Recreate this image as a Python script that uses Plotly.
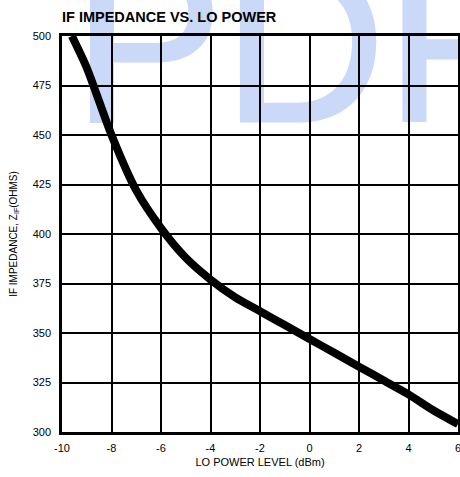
import plotly.graph_objects as go
import base64

lo_power_dbm = [-9.6, -9, -8, -7, -6, -5, -4, -3, -2, -1, 0, 1, 2, 3, 4, 5, 6]
if_impedance_ohms = [500, 484, 450, 422, 403, 388, 377, 368, 361, 354, 347, 340, 333, 326, 319, 311, 304]

x_ticks = [-10, -8, -6, -4, -2, 0, 2, 4, 6]
y_ticks = [300, 325, 350, 375, 400, 425, 450, 475, 500]

W, H = 460, 477
ml, mr, mt, mb = 62, 2, 36, 45
pw, ph = W - ml - mr, H - mt - mb

svg = f'''<svg xmlns="http://www.w3.org/2000/svg" width="{W}" height="{H}" viewBox="0 0 {W} {H}">
<text x="73" y="121" font-family="Liberation Sans, Arial, sans-serif" font-size="225" fill="#c9d9f7" stroke="#c9d9f7" stroke-width="3">PDF</text>
</svg>'''
svg_uri = "data:image/svg+xml;base64," + base64.b64encode(svg.encode()).decode()

fig = go.Figure()
fig.add_trace(go.Scatter(
    x=lo_power_dbm, y=if_impedance_ohms, mode="lines",
    line=dict(color="black", width=8, shape="spline", smoothing=0.7),
    hoverinfo="skip", showlegend=False,
))

fig.update_layout(
    width=W, height=H,
    margin=dict(l=ml, r=mr, t=mt, b=mb, autoexpand=False),
    paper_bgcolor="white",
    plot_bgcolor="rgba(0,0,0,0)",
    font=dict(family="Liberation Sans, Arial, sans-serif", color="black", size=11),
    title=dict(text="<b>IF IMPEDANCE VS. LO POWER</b>", x=ml / W, xanchor="left",
               y=1 - 17 / H, yanchor="middle", font=dict(size=14.5)),
    images=[dict(source=svg_uri, xref="paper", yref="paper",
                 x=-ml / pw, y=1 + mt / ph, sizex=W / pw, sizey=H / ph,
                 xanchor="left", yanchor="top", sizing="stretch", layer="below")],
    xaxis=dict(range=[-10, 6], tickvals=x_ticks, ticktext=[str(v) for v in x_ticks],
               showgrid=True, gridcolor="black", gridwidth=1.5,
               showline=True, linecolor="black", linewidth=2.5, mirror=True,
               zeroline=False, ticks="", ticklabelstandoff=4, automargin=False,
               ticklabeloverflow="allow",
               title=dict(text="LO POWER LEVEL (dBm)", standoff=6, font=dict(size=11))),
    yaxis=dict(range=[300, 500], tickvals=y_ticks, ticktext=[str(v) for v in y_ticks],
               showgrid=True, gridcolor="black", gridwidth=1.5,
               showline=True, linecolor="black", linewidth=2.5, mirror=True,
               zeroline=False, ticks="", ticklabelstandoff=6, automargin=False,
               ticklabeloverflow="allow",
               title=dict(text="IF IMPEDANCE, Z<sub>IF</sub>(OHMS)", standoff=14, font=dict(size=10))),
)

fig.write_html(
    "out.html",
    config={"displayModeBar": False},
    post_script="document.body.style.margin='0';document.body.style.overflow='hidden';",
)
